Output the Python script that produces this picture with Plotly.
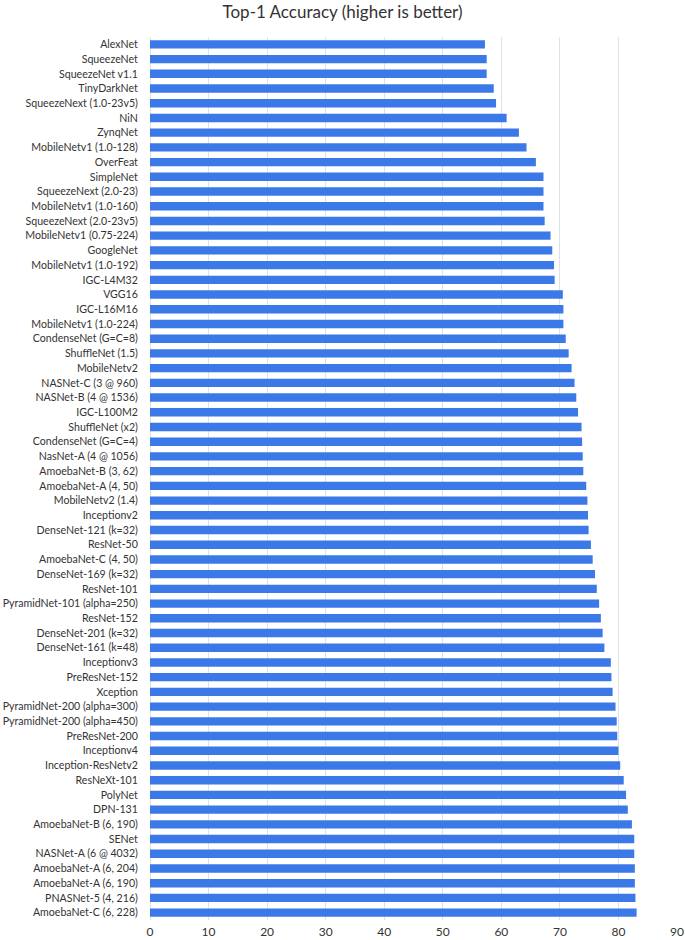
import plotly.graph_objects as go

models = [
    "AlexNet", "SqueezeNet", "SqueezeNet v1.1", "TinyDarkNet", "SqueezeNext (1.0-23v5)",
    "NiN", "ZynqNet", "MobileNetv1 (1.0-128)", "OverFeat", "SimpleNet",
    "SqueezeNext (2.0-23)", "MobileNetv1 (1.0-160)", "SqueezeNext (2.0-23v5)", "MobileNetv1 (0.75-224)", "GoogleNet",
    "MobileNetv1 (1.0-192)", "IGC-L4M32", "VGG16", "IGC-L16M16", "MobileNetv1 (1.0-224)",
    "CondenseNet (G=C=8)", "ShuffleNet (1.5)", "MobileNetv2", "NASNet-C (3 @ 960)", "NASNet-B (4 @ 1536)",
    "IGC-L100M2", "ShuffleNet (x2)", "CondenseNet (G=C=4)", "NasNet-A (4 @ 1056)", "AmoebaNet-B (3, 62)",
    "AmoebaNet-A (4, 50)", "MobileNetv2 (1.4)", "Inceptionv2", "DenseNet-121 (k=32)", "ResNet-50",
    "AmoebaNet-C (4, 50)", "DenseNet-169 (k=32)", "ResNet-101", "PyramidNet-101 (alpha=250)", "ResNet-152",
    "DenseNet-201 (k=32)", "DenseNet-161 (k=48)", "Inceptionv3", "PreResNet-152", "Xception",
    "PyramidNet-200 (alpha=300)", "PyramidNet-200 (alpha=450)", "PreResNet-200", "Inceptionv4", "Inception-ResNetv2",
    "ResNeXt-101", "PolyNet", "DPN-131", "AmoebaNet-B (6, 190)", "SENet",
    "NASNet-A (6 @ 4032)", "AmoebaNet-A (6, 204)", "AmoebaNet-A (6, 190)", "PNASNet-5 (4, 216)", "AmoebaNet-C (6, 228)",
]

top1 = [
    57.2, 57.5, 57.5, 58.7, 59.1,
    60.9, 63.0, 64.3, 65.9, 67.2,
    67.2, 67.2, 67.4, 68.4, 68.7,
    69.0, 69.1, 70.5, 70.6, 70.6,
    71.0, 71.5, 72.0, 72.5, 72.8,
    73.1, 73.7, 73.8, 73.9, 74.0,
    74.5, 74.7, 74.8, 74.9, 75.3,
    75.6, 76.0, 76.3, 76.7, 77.0,
    77.3, 77.6, 78.7, 78.8, 79.0,
    79.5, 79.7, 79.8, 80.0, 80.3,
    80.9, 81.3, 81.6, 82.3, 82.7,
    82.7, 82.8, 82.8, 82.9, 83.1,
]

x_ticks = [0, 10, 20, 30, 40, 50, 60, 70, 80, 90]

font_family = "Lato, 'Open Sans', sans-serif"

fig = go.Figure(
    go.Bar(
        x=top1,
        y=models,
        orientation="h",
        marker=dict(color="#3B78E8", line=dict(width=0)),
        width=0.57,
    )
)

fig.update_layout(
    width=685,
    height=940,
    paper_bgcolor="white",
    plot_bgcolor="white",
    margin=dict(l=150, r=8, t=37, b=20, autoexpand=False),
    showlegend=False,
    title=dict(
        text="Top-1 Accuracy (higher is better)",
        x=0.5,
        xanchor="center",
        y=1 - 12 / 940,
        yanchor="middle",
        font=dict(family=font_family, size=17, color="#333333"),
    ),
    font=dict(family=font_family, color="#333333"),
)

fig.update_xaxes(
    range=[0, 90],
    tickvals=x_ticks,
    ticktext=[str(v) for v in x_ticks],
    showgrid=True,
    gridcolor="#DDE3E3",
    gridwidth=1,
    zeroline=True,
    zerolinecolor="#DDE3E3",
    zerolinewidth=1,
    showline=False,
    ticks="outside",
    ticklen=1,
    tickcolor="rgba(0,0,0,0)",
    tickfont=dict(family=font_family, size=12, color="#333333"),
    automargin=False,
    fixedrange=True,
)

fig.update_yaxes(
    categoryorder="array",
    categoryarray=models,
    autorange="reversed",
    showgrid=False,
    zeroline=False,
    showline=False,
    ticks="outside",
    ticklen=9,
    tickcolor="rgba(0,0,0,0)",
    tickfont=dict(family=font_family, size=10.6, color="#333333"),
    automargin=False,
    fixedrange=True,
)

fig.write_html(
    "out.html",
    config={"displayModeBar": False, "staticPlot": True},
    post_script="document.body.style.margin='0';document.body.style.padding='0';",
)
